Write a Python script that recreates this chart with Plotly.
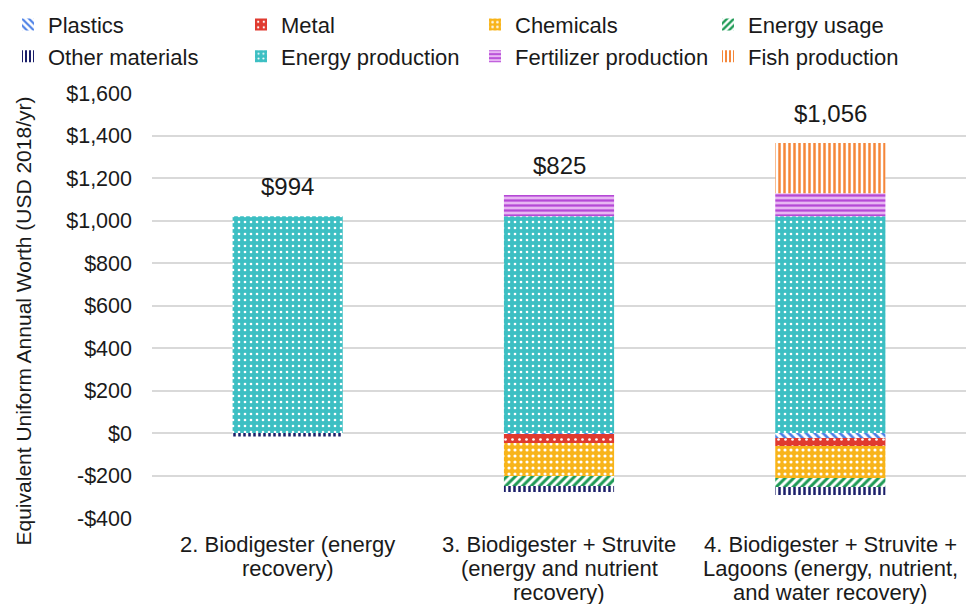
import plotly.graph_objects as go

categories = ["2. Biodigester (energy<br>recovery)",
              "3. Biodigester + Struvite<br>(energy and nutrient<br>recovery)",
              "4. Biodigester + Struvite +<br>Lagoons (energy, nutrient,<br>and water recovery)"]
plastics = [0, -5, -24]
metal = [0, -42, -37]
chemicals = [0, -155, -151]
energy_usage = [0, -47, -42]
other_materials = [-17, -29, -38]
energy_production = [1020, 1020, 1020]
fertilizer_production = [0, 100, 108]
fish_production = [0, 0, 237]
net_labels = ["$994", "$825", "$1,056"]
tick_vals = [-400, -200, 0, 200, 400, 600, 800, 1000, 1200, 1400, 1600]
tick_text = ["-$400", "-$200", "$0", "$200", "$400", "$600", "$800", "$1,000", "$1,200", "$1,400", "$1,600"]
y_title = "Equivalent Uniform Annual Worth (USD 2018/yr)"

FONT = "Arial, Liberation Sans, sans-serif"
TXT = "#1a1a1a"

series = [
    ("Plastics", plastics, dict(shape="\\", bgcolor="white", fgcolor="#4a7fe6", size=6, solidity=0.45), "legend"),
    ("Metal", metal, dict(shape=".", bgcolor="#e03a2f", fgcolor="white", size=7, solidity=0.12), "legend2"),
    ("Chemicals", chemicals, dict(shape=".", bgcolor="#f8b41a", fgcolor="white", size=6, solidity=0.22), "legend3"),
    ("Energy usage", energy_usage, dict(shape="/", bgcolor="white", fgcolor="#1e9a55", size=6, solidity=0.5), "legend4"),
    ("Other materials", other_materials, dict(shape="|", bgcolor="white", fgcolor="#1b1f6a", size=5, solidity=0.5), "legend"),
    ("Energy production", energy_production, dict(shape=".", bgcolor="#3dbfc3", fgcolor="white", size=6, solidity=0.15), "legend2"),
    ("Fertilizer production", fertilizer_production, dict(shape="-", bgcolor="#e8b6f3", fgcolor="#b548d6", size=5, solidity=0.45), "legend3"),
    ("Fish production", fish_production, dict(shape="|", bgcolor="white", fgcolor="#f5873a", size=5, solidity=0.5), "legend4"),
]

fig = go.Figure()
for name, vals, pat, lg in series:
    fig.add_trace(go.Bar(
        x=categories, y=vals, name=name, legend=lg,
        marker=dict(color=pat["bgcolor"], line=dict(width=0),
                    pattern=dict(shape=pat["shape"], bgcolor=pat["bgcolor"], fgcolor=pat["fgcolor"],
                                 size=pat["size"], solidity=pat["solidity"], fillmode="replace")),
    ))

tops = [sum(v for v in col if v > 0) for col in zip(*[s[1] for s in series])]
for cat, top, lab in zip(categories, tops, net_labels):
    fig.add_annotation(x=cat, y=top, text=lab, showarrow=False, yanchor="bottom", yshift=14,
                       font=dict(size=24, color=TXT, family=FONT))

# category labels, one annotation per line for tighter line spacing
for cat in categories:
    for i, line in enumerate(cat.split("<br>")):
        fig.add_annotation(x=cat, y=0, yref="paper", text=line, showarrow=False,
                           yanchor="middle", yshift=-(26 + 24 * i),
                           font=dict(size=22, color=TXT, family=FONT))

# y-axis title
fig.add_annotation(x=0, xref="paper", y=0.5, yref="paper", text=y_title, textangle=-90,
                   showarrow=False, xanchor="center", yanchor="middle", xshift=-129, yshift=-16,
                   font=dict(size=21, color=TXT, family=FONT))

leg_common = dict(orientation="v", yanchor="top", xanchor="left", y=1.21,
                  font=dict(size=22, color=TXT, family=FONT), bgcolor="rgba(0,0,0,0)",
                  itemwidth=30, tracegroupgap=0)
W = 814.0
L = 152.0
fig.update_layout(
    width=966, height=604,
    margin=dict(l=152, r=0, t=93, b=86, autoexpand=False),
    paper_bgcolor="white", plot_bgcolor="white",
    barmode="relative", bargap=0.594,
    font=dict(family=FONT, size=22, color=TXT),
    legend=dict(leg_common, x=(8 - L) / W),
    legend2=dict(leg_common, x=(241 - L) / W),
    legend3=dict(leg_common, x=(475 - L) / W),
    legend4=dict(leg_common, x=(708 - L) / W),
    xaxis=dict(showline=False, ticks="", showticklabels=False),
    yaxis=dict(range=[-400, 1600], tickvals=tick_vals, ticktext=tick_text,
               showgrid=True, gridcolor="#d9d9d9", gridwidth=1.5,
               zeroline=True, zerolinecolor="#d9d9d9", zerolinewidth=1.5,
               showline=False, ticks="", ticklen=0, ticklabelstandoff=19,
               tickfont=dict(size=21.5, family=FONT, color=TXT)),
)

fig.write_html("out.html", post_script="document.body.style.margin='0';",
               config={"displayModeBar": False})
